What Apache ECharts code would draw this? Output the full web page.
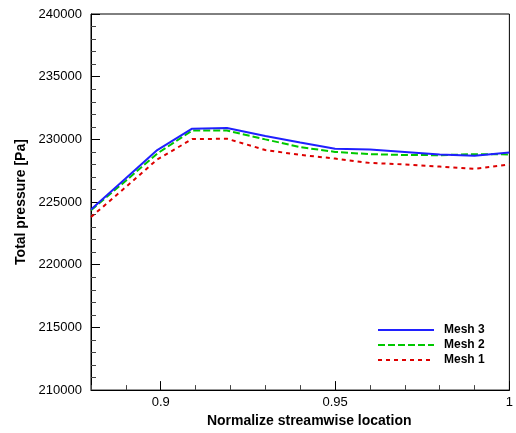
<!DOCTYPE html>
<html>
<head>
<meta charset="utf-8">
<script src="https://cdn.jsdelivr.net/npm/echarts@6/dist/echarts.min.js"></script>
<style>
html,body{margin:0;padding:0;background:#fff;}
#chart{width:516px;height:433px;}
</style>
</head>
<body>
<div id="chart"></div>
<script>
// Data
var xLocations = [0.88, 0.89, 0.899, 0.909, 0.919, 0.93, 0.94, 0.95, 0.96, 0.97, 0.98, 0.99, 1.0];
var mesh3 = [224400, 226900, 229150, 230850, 230900, 230270, 229750, 229250, 229200, 229000, 228800, 228700, 228950];
var mesh2 = [224350, 226700, 228870, 230700, 230700, 230000, 229380, 229000, 228820, 228750, 228740, 228820, 228800];
var mesh1 = [223800, 226200, 228400, 230020, 230050, 229150, 228760, 228470, 228120, 228000, 227830, 227650, 228000];
var seriesNames = ['Mesh 3', 'Mesh 2', 'Mesh 1'];
var xMajorTicks = [0.9, 0.95, 1.0];
var yTicks = [210000, 215000, 220000, 225000, 230000, 235000, 240000];

function pairs(ys) {
  return xLocations.map(function (x, i) { return [x, ys[i]]; });
}

var chart = echarts.init(document.getElementById('chart'), null, {renderer: 'canvas'});
var font = 'Liberation Sans, Arial, sans-serif';
var option = {
  animation: false,
  backgroundColor: '#fff',
  grid: {left: 91, right: 6, top: 14, bottom: 39, show: true, borderColor: '#000', borderWidth: 1, backgroundColor: 'transparent'},
  legend: {
    orient: 'vertical', left: 377, top: 324, padding: 0,
    itemWidth: 56, itemHeight: 12, itemGap: 3,
    data: seriesNames,
    itemStyle: {opacity: 0},
    textStyle: {fontFamily: font, fontSize: 12, fontWeight: 'bold', color: '#000', padding: [0, 0, 0, 5]}
  },
  xAxis: [{
    type: 'value', min: 0.88, max: 1.0, interval: 0.01,
    name: 'Normalize streamwise location', nameLocation: 'middle', nameGap: 21,
    nameTextStyle: {fontFamily: font, fontSize: 14, fontWeight: 'bold', color: '#000', padding: [0, 0, 0, 18]},
    axisLine: {show: true, lineStyle: {color: '#000', width: 1}},
    axisTick: {show: true, inside: true, length: 5, lineStyle: {color: '#444'}},
    axisLabel: {
      margin: 6, fontFamily: font, fontSize: 13, color: '#000',
      formatter: function (v) {
        for (var i = 0; i < xMajorTicks.length; i++) {
          if (Math.abs(v - xMajorTicks[i]) < 1e-6) return String(xMajorTicks[i]);
        }
        return '';
      }
    },
    splitLine: {show: false}
  }, {
    type: 'value', min: 0.88, max: 1.0, position: 'bottom', gridIndex: 0,
    axisLine: {show: false},
    axisTick: {show: true, inside: true, length: 9, customValues: xMajorTicks, lineStyle: {color: '#000'}},
    axisLabel: {show: false},
    splitLine: {show: false}
  }],
  yAxis: {
    type: 'value', min: yTicks[0], max: yTicks[yTicks.length - 1], interval: 5000,
    name: 'Total pressure [Pa]', nameLocation: 'middle', nameGap: 60,
    nameTextStyle: {fontFamily: font, fontSize: 14, fontWeight: 'bold', color: '#000'},
    axisLine: {show: true, lineStyle: {color: '#000', width: 1}},
    axisTick: {show: true, inside: true, length: 9, lineStyle: {color: '#000'}},
    minorTick: {show: true, splitNumber: 5, length: 5, lineStyle: {color: '#444'}},
    axisLabel: {margin: 9, fontFamily: font, fontSize: 13, color: '#000', formatter: function (v) { return String(v); }},
    splitLine: {show: false}
  },
  series: [{
    name: seriesNames[0], type: 'line', data: pairs(mesh3), symbol: 'none',
    color: '#2020ff', lineStyle: {color: '#2020ff', width: 2, type: 'solid'}, z: 3
  }, {
    name: seriesNames[1], type: 'line', data: pairs(mesh2), symbol: 'none',
    color: '#00c800', lineStyle: {color: '#00c800', width: 2, type: [7, 3]}, z: 2
  }, {
    name: seriesNames[2], type: 'line', data: pairs(mesh1), symbol: 'none',
    color: '#dd0000', lineStyle: {color: '#dd0000', width: 2, type: [4, 4]}, z: 1
  }]
};
chart.setOption(option);
</script>
</body>
</html>
